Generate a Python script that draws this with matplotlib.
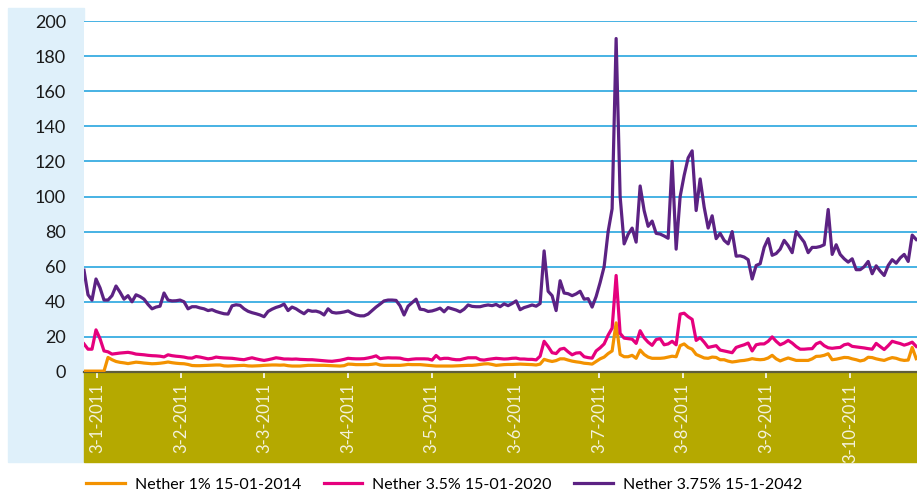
import matplotlib
matplotlib.use('Agg')
import matplotlib.pyplot as plt
import numpy as np
from matplotlib.patches import Rectangle

plt.rcParams['font.family'] = ['Lato', 'DejaVu Sans']

# daily spreads (one value per trading day)
nether_2014 = [
    0.5, 0.5, 0.5, 0.5, 0.5, 0.5, 8.3, 7, 6, 5.5,
    5.2, 4.8, 5.2, 5.6, 5.4, 5.1, 4.9, 4.7, 4.8, 5,
    5.3, 5.7, 5.3, 5, 4.8, 4.7, 4.3, 3.7, 3.6, 3.6,
    3.7, 3.8, 3.9, 4, 4, 3.5, 3.4, 3.5, 3.6, 3.7,
    3.8, 3.5, 3.4, 3.5, 3.6, 3.8, 3.9, 4, 4, 3.9,
    4, 3.6, 3.4, 3.4, 3.4, 3.6, 3.8, 3.8, 3.8, 3.8,
    3.8, 3.7, 3.6, 3.5, 3.4, 3.6, 4.5, 4.4, 4.2, 4.2,
    4.2, 4.2, 4.4, 4.7, 4, 3.8, 3.8, 3.8, 3.8, 3.8,
    4, 4.3, 4.2, 4.2, 4.2, 4, 3.8, 3.6, 3.4, 3.4,
    3.4, 3.4, 3.4, 3.5, 3.6, 3.7, 3.8, 3.8, 4, 4.3,
    4.6, 4.7, 4.3, 3.8, 4, 4.2, 4.3, 4.3, 4.4, 4.5,
    4.4, 4.3, 4.2, 4, 4.5, 7.2, 6.5, 6, 6.5, 7.5,
    7.5, 6.8, 6.2, 5.8, 5.5, 5, 4.8, 4.5, 6, 7.5,
    8.5, 10.5, 12, 28, 10, 8.7, 8.7, 9.5, 7.8, 12.5,
    10, 8.5, 7.8, 7.8, 7.8, 8, 8.5, 9, 8.7, 15,
    16, 14, 13, 10, 9, 8, 7.8, 8.5, 8.3, 7,
    7, 6.2, 5.7, 6, 6.4, 6.6, 7, 7.6, 7.2, 7,
    7.2, 8, 9.5, 7.5, 6.3, 7.2, 8, 7.3, 6.6, 6.6,
    6.6, 6.6, 7.5, 8.9, 9, 9.5, 10.4, 7, 7.3, 7.8,
    8.3, 8.2, 7.5, 7, 6.3, 6.8, 8.4, 8.2, 7.5, 7,
    6.6, 7.5, 8.2, 7.8, 7, 6.6, 6.8, 14, 7.6,
]

nether_2020 = [
    16, 13, 13, 24, 19, 12, 11.5, 10.2, 10.5, 10.8,
    11, 11.2, 10.8, 10.2, 10, 9.8, 9.5, 9.3, 9.2, 9,
    8.6, 9.8, 9.3, 9, 8.8, 8.5, 8, 7.9, 8.8, 8.5,
    8, 7.5, 7.8, 8.5, 8.2, 8, 7.9, 7.8, 7.5, 7.2,
    7, 7.6, 8.1, 7.5, 7, 6.6, 7, 7.5, 8.1, 7.8,
    7.4, 7.4, 7.3, 7.4, 7.2, 7.1, 7, 7, 6.8, 6.6,
    6.4, 6.2, 6.1, 6.4, 6.7, 7.2, 7.8, 7.6, 7.5, 7.5,
    7.6, 8, 8.5, 9.2, 7.6, 7.9, 8.1, 8, 8, 7.9,
    7.3, 7, 7.3, 7.5, 7.5, 7.5, 7.4, 6.8, 9.4, 7.4,
    7.8, 7.8, 7.3, 7, 7, 7.6, 8.1, 8.1, 8.1, 7,
    6.8, 7.2, 7.5, 7.8, 7.6, 7.4, 7.5, 7.8, 7.9, 7.4,
    7.4, 7.2, 7.2, 6.9, 9, 17.5, 14.5, 11, 10.5, 13,
    13.5, 11.5, 9.8, 10.8, 11, 8.7, 8.2, 7.9, 12, 13.8,
    16, 21, 25, 55, 22, 19.3, 19, 18.7, 16.3, 23.5,
    19.5, 17, 15.2, 18.5, 19, 15.5, 16, 17.5, 15.5, 33,
    33.5, 31.5, 30, 18, 19.6, 17, 14, 14.5, 15, 12.5,
    12, 11.5, 11, 14, 14.8, 15.5, 16.5, 12, 15.5, 16,
    16, 17.5, 20, 17.5, 15.5, 16.5, 18, 16.5, 14.5, 13,
    13, 13.2, 13.3, 16, 17, 15, 13.8, 13.5, 13.8, 14,
    15.5, 16, 14.6, 14.3, 14, 13.7, 13.3, 13, 16.3, 14.5,
    12.8, 15, 17.5, 16.8, 16.2, 15.3, 16, 17, 14.6,
]

nether_2042 = [
    58, 44, 41, 53, 48, 41, 41, 43.5, 49, 45.5,
    41.5, 43.5, 40, 44, 43, 41.5, 38.5, 36, 37, 37.5,
    45, 41, 40.5, 40.6, 41, 40, 36, 37.2, 37.2, 36.5,
    36, 35, 35.5, 34.5, 33.8, 33.2, 33, 37.7, 38.3, 38,
    36, 34.6, 33.8, 33.2, 32.5, 31.5, 34.5, 35.8, 36.8, 37.5,
    38.7, 35, 37, 36, 34.5, 33.2, 35.2, 34.6, 34.7, 34,
    32.5, 36, 34, 33.6, 33.8, 34.2, 34.8, 33.5, 32.5, 32,
    32, 33, 35, 37, 38.7, 40.5, 41, 41, 40.8, 37.7,
    32.5, 37.5, 39.5, 41.5, 35.8, 35.5, 34.5, 34.8, 35.5, 36.4,
    34.3, 36.7, 36, 35.3, 34.3, 35.8, 38.2, 37.4, 37.2, 37.2,
    37.8, 38.2, 37.8, 38.5, 37.2, 38.8, 37.8, 39, 40.5, 35.5,
    36.7, 37.4, 38.2, 37.5, 39, 69, 46, 43.5, 35, 52,
    45, 44.6, 43.5, 44.5, 46, 41.5, 41.8, 37, 43, 51,
    60, 80, 93, 190, 100, 73, 78.5, 82, 74, 106,
    92, 83, 86, 79, 78.6, 77.5, 76.2, 120, 70, 100,
    112, 122, 126, 92, 110, 94, 82, 89, 76, 79,
    75, 73, 80, 66, 66.2, 65.5, 64, 53, 60.7, 61.7,
    71, 76, 66.5, 67.5, 70, 75, 72, 68, 80, 77,
    74, 68, 71, 71, 71.5, 72.5, 92.6, 67, 72.5, 67,
    64.5, 62.6, 64.5, 58.3, 58.3, 60, 63, 56, 60.5, 57.5,
    55, 60.7, 64, 62, 65, 67, 63, 78, 75.5,
]

month_labels = ['3-1-2011', '3-2-2011', '3-3-2011', '3-4-2011', '3-5-2011',
                '3-6-2011', '3-7-2011', '3-8-2011', '3-9-2011', '3-10-2011']

series_names = ['Nether 1% 15-01-2014', 'Nether 3.5% 15-01-2020', 'Nether 3.75% 15-1-2042']
colors = ['#f39200', '#e5007d', '#5c2283']

W, H = 917, 495
fig = plt.figure(figsize=(W / 100, H / 100), dpi=100)

# light blue panel behind y labels, olive band behind x labels
fig.add_artist(Rectangle((8 / W, (H - 462) / H), (84 - 8) / W, (462 - 8) / H,
                         transform=fig.transFigure, color='#dff0fa', zorder=-2))
fig.add_artist(Rectangle((84 / W, (H - 462) / H), (W - 84) / W, (462 - 372) / H,
                         transform=fig.transFigure, color='#b5a900', zorder=-1))

ax = fig.add_axes([84 / W, (H - 372) / H, (W - 84) / W, (372 - 21) / H])

for vals, name, col in zip([nether_2014, nether_2020, nether_2042], series_names, colors):
    ax.plot(np.arange(len(vals)), vals, color=col, lw=2.3, label=name,
            solid_joinstyle='round', zorder=3)

ax.set_ylim(0, 200)
ax.set_xlim(0, len(nether_2042) - 0.8)
ax.set_yticks(np.arange(0, 201, 20))
ax.grid(axis='y', color='#28a5df', lw=1.2, zorder=1)
ax.set_axisbelow(True)

tick_pos = 3.3 + 20.9 * np.arange(len(month_labels))
ax.set_xticks(tick_pos)
ax.set_xticklabels(month_labels, rotation=90, color='#f4f2dc', fontsize=12)
ax.tick_params(axis='x', direction='out', length=4.5, width=1.2, color='white', pad=3.5)
ax.tick_params(axis='y', length=0, pad=13, labelsize=13, labelcolor='#1a1a1a')

for s in ['top', 'right', 'left']:
    ax.spines[s].set_visible(False)
ax.spines['bottom'].set_color('#5f5d3a')
ax.spines['bottom'].set_linewidth(1.6)

fig.legend(loc='lower left', bbox_to_anchor=(83 / W, 0.0), ncol=3, frameon=False,
           fontsize=11.5, handlelength=2.4, handletextpad=0.65, columnspacing=1.4,
           borderpad=0.2, borderaxespad=0.0)

fig.savefig('out.png', dpi=100)
